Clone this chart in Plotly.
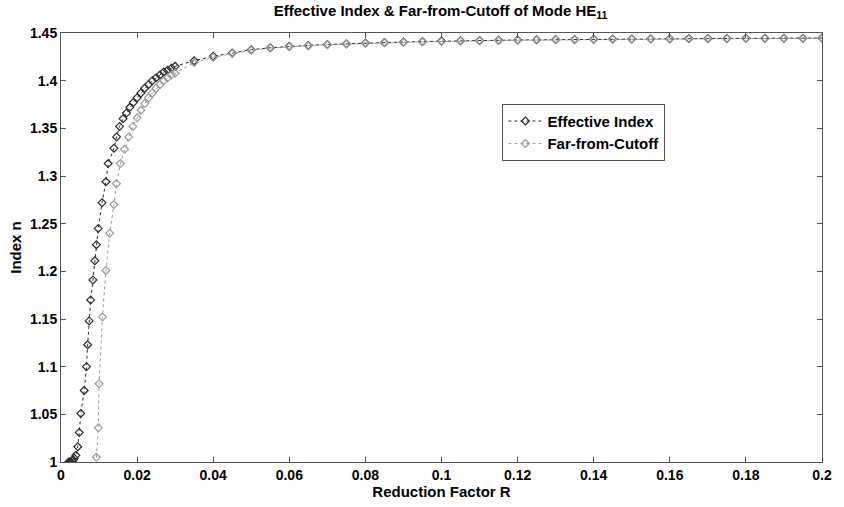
import plotly.graph_objects as go

# Effective index of HE11 mode
r_eff = [0.0020, 0.0023, 0.0026, 0.0029, 0.0032, 0.0035, 0.0039, 0.0044, 0.0048, 0.0052,
         0.0061, 0.0067, 0.0070, 0.0074, 0.0078, 0.0084, 0.0089, 0.0093, 0.0098, 0.0108,
         0.0118, 0.0124, 0.0139, 0.0146, 0.0154, 0.0163, 0.0172, 0.0181, 0.0190, 0.0200,
         0.0210, 0.0220, 0.0230, 0.0240, 0.0250, 0.0260, 0.0270, 0.0280, 0.0290, 0.0300,
         0.035, 0.040, 0.045, 0.050, 0.055, 0.060, 0.065, 0.070, 0.075, 0.080,
         0.085, 0.090, 0.095, 0.100, 0.105, 0.110, 0.115, 0.120, 0.125, 0.130,
         0.135, 0.140, 0.145, 0.150, 0.155, 0.160, 0.165, 0.170, 0.175, 0.180,
         0.185, 0.190, 0.195, 0.200]
n_eff = [1.000, 1.000, 1.000, 1.001, 1.002, 1.004, 1.007, 1.016, 1.031, 1.051,
         1.075, 1.100, 1.123, 1.148, 1.170, 1.191, 1.211, 1.228, 1.245, 1.272,
         1.294, 1.313, 1.329, 1.341, 1.352, 1.360, 1.366, 1.372, 1.377, 1.382,
         1.387, 1.392, 1.396, 1.400, 1.403, 1.406, 1.409, 1.411, 1.413, 1.415,
         1.421, 1.4255, 1.429, 1.4325, 1.4345, 1.436, 1.437, 1.438, 1.4388, 1.4395,
         1.4400, 1.4405, 1.4410, 1.4415, 1.4418, 1.4421, 1.4424, 1.4427, 1.4429, 1.4431,
         1.4433, 1.4435, 1.4437, 1.4438, 1.4439, 1.4440, 1.4441, 1.4442, 1.4443, 1.4444,
         1.4445, 1.4446, 1.4446, 1.4447]

# Far-from-cutoff approximation
r_far = [0.0093, 0.0098, 0.0100, 0.0109, 0.0118, 0.0128, 0.0139, 0.0146, 0.0156, 0.0167,
         0.0178, 0.0189, 0.0200, 0.0210, 0.0220, 0.0230, 0.0240, 0.0250, 0.0260, 0.0270,
         0.0280, 0.0290, 0.0300,
         0.035, 0.040, 0.045, 0.050, 0.055, 0.060, 0.065, 0.070, 0.075, 0.080,
         0.085, 0.090, 0.095, 0.100, 0.105, 0.110, 0.115, 0.120, 0.125, 0.130,
         0.135, 0.140, 0.145, 0.150, 0.155, 0.160, 0.165, 0.170, 0.175, 0.180,
         0.185, 0.190, 0.195, 0.200]
n_far = [1.005, 1.036, 1.082, 1.152, 1.201, 1.240, 1.270, 1.292, 1.313, 1.328,
         1.341, 1.352, 1.361, 1.369, 1.376, 1.382, 1.387, 1.392, 1.396, 1.400,
         1.403, 1.406, 1.408,
         1.419, 1.4245, 1.4285, 1.432, 1.4342, 1.4357, 1.4367, 1.4377, 1.4385, 1.4392,
         1.4397, 1.4402, 1.4407, 1.4412, 1.4415, 1.4418, 1.4421, 1.4424, 1.4426, 1.4428,
         1.4430, 1.4432, 1.4434, 1.4435, 1.4436, 1.4437, 1.4438, 1.4439, 1.4440, 1.4441,
         1.4442, 1.4443, 1.4443, 1.4444]

x_ticks = [0, 0.02, 0.04, 0.06, 0.08, 0.1, 0.12, 0.14, 0.16, 0.18, 0.2]
x_labels = ["0", "0.02", "0.04", "0.06", "0.08", "0.1", "0.12", "0.14", "0.16", "0.18", "0.2"]
y_ticks = [1, 1.05, 1.1, 1.15, 1.2, 1.25, 1.3, 1.35, 1.4, 1.45]
y_labels = ["1", "1.05", "1.1", "1.15", "1.2", "1.25", "1.3", "1.35", "1.4", "1.45"]

FONT = "Liberation Sans"

fig = go.Figure()
fig.add_trace(go.Scatter(
    x=r_eff, y=n_eff, mode="lines+markers", name="Effective Index",
    line=dict(color="#2a2a2a", width=1, dash="dot"),
    marker=dict(symbol="diamond-open", size=6, color="#2a2a2a", line=dict(width=1.2)),
))
fig.add_trace(go.Scatter(
    x=r_far, y=n_far, mode="lines+markers", name="Far-from-Cutoff",
    line=dict(color="#9a9a9a", width=1, dash="dot"),
    marker=dict(symbol="diamond-open", size=6, color="#9a9a9a", line=dict(width=1.2)),
))

axis_common = dict(
    showgrid=False, zeroline=False, showline=True, linecolor="#555555", linewidth=1,
    mirror="allticks", ticks="inside", ticklen=5, tickcolor="#555555",
    tickfont=dict(family=FONT, size=14, color="black", weight="bold"),
)

fig.update_layout(
    width=844, height=507,
    margin=dict(l=61, r=18, t=33, b=42),
    paper_bgcolor="white", plot_bgcolor="white",
    title=dict(
        text="Effective Index & Far-from-Cutoff of Mode HE<sub>11</sub>",
        x=0.522, xanchor="center", y=0.99, yanchor="top",
        font=dict(family=FONT, size=15, color="black", weight="bold"),
    ),
    xaxis=dict(range=[0, 0.2], tickvals=x_ticks, ticktext=x_labels,
               title=dict(text="Reduction Factor R", standoff=2,
                          font=dict(family=FONT, size=15, color="black", weight="bold")),
               **axis_common),
    yaxis=dict(range=[1, 1.45], tickvals=y_ticks, ticktext=y_labels,
               title=dict(text="Index n", standoff=4,
                          font=dict(family=FONT, size=15, color="black", weight="bold")),
               **axis_common),
    legend=dict(
        x=0.580, y=0.835, xanchor="left", yanchor="top",
        bgcolor="white", bordercolor="#555555", borderwidth=1,
        font=dict(family=FONT, size=15, color="black", weight="bold"),
        tracegroupgap=0, itemwidth=34,
    ),
    showlegend=True,
)

fig.write_html("out.html")
